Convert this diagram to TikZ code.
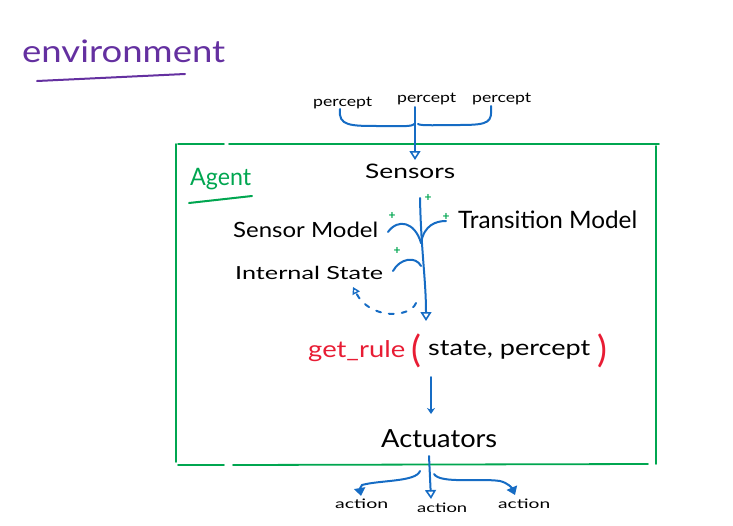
\documentclass[tikz,border=0pt]{standalone}
\usepackage{fontspec}
\usepackage{graphicx}
\setmainfont{Lato}
\usetikzlibrary{arrows.meta}
\definecolor{inkblue}{RGB}{22,108,196}
\definecolor{inkgreen}{RGB}{0,166,80}
\definecolor{inkpurple}{RGB}{100,48,160}
\definecolor{inkred}{RGB}{232,28,52}
\newcommand\fw[2]{\resizebox{#1}{\height}{#2}}
\tikzset{
  x=1pt,y=-1pt,
  ink/.style={line width=2pt,line cap=round,line join=round},
  bluepen/.style={ink,inkblue},
  boxpen/.style={ink,inkgreen,line width=1.8pt},
  txt/.style={inner sep=0pt,anchor=base west},
  plus/.style={inkgreen,font=\bfseries\fontsize{12}{12}\selectfont,inner sep=0pt},
  opentip/.style={-{Triangle[open,length=9pt,width=11pt,line width=1.6pt]}},
  smalltip/.style={-{Stealth[length=6pt,width=8pt]}},
  filledtip/.style={-{Triangle[length=8pt,width=11pt]}}
}
\begin{document}
\begin{tikzpicture}
\useasboundingbox (0,0) rectangle (733,525);
% environment
\node[txt,inkpurple,font=\fontsize{31}{31}\selectfont] (env) at (22,62) {\fw{203pt}{environment}};
\draw[ink,inkpurple] (37,81) -- (185,74);
% agent box
\draw[boxpen] (176,144) -- (176,462);
\draw[boxpen] (178,144) -- (224,144) (229,144) -- (659,144);
\draw[boxpen] (656,146) -- (656,464);
\draw[boxpen] (178,465) -- (224,465) (233,465) -- (648,464);
\node[txt,inkgreen,font=\fontsize{24}{24}\selectfont] (agent) at (190,185) {\fw{61pt}{Agent}};
\draw[ink,inkgreen] (189,203) -- (252,196);
% percepts
\node[txt,font=\fontsize{14}{14}\selectfont] (p1) at (313,106) {\fw{59pt}{percept}};
\node[txt,font=\fontsize{14}{14}\selectfont] (p2) at (397,102) {\fw{59pt}{percept}};
\node[txt,font=\fontsize{14}{14}\selectfont] (p3) at (472,102) {\fw{59pt}{percept}};
\coordinate (bl) at (340,109);
\coordinate (bm) at (415,107);
\coordinate (br) at (491,106);
\draw[bluepen] (bl) .. controls (338,126) and (350,126) .. (380,126) .. controls (400,126) and (412,127) .. (414,124);
\draw[bluepen] (418,124) .. controls (420,126) and (440,125) .. (460,125) .. controls (490,125) and (492,122) .. (br);
% sensors
\node[txt,font=\fontsize{20}{20}\selectfont] (sensors) at (365,178) {\fw{90pt}{Sensors}};
\draw[bluepen,opentip] (bm) -- (415,160);
% models
\node[txt,font=\fontsize{21}{21}\selectfont] (smodel) at (233,237) {\fw{145pt}{Sensor Model}};
\node[txt,font=\fontsize{24}{24}\selectfont] (tmodel) at (458,228) {\fw{179pt}{Transition Model}};
\node[txt,font=\fontsize{18}{18}\selectfont] (istate) at (235,279) {\fw{148pt}{Internal State}};
\coordinate (vtop) at (420,198);
\coordinate (vbot) at (426,321);
\draw[bluepen,opentip] (vtop) .. controls (421,250) and (426,280) .. (vbot);
\draw[bluepen] (388,232) .. controls (398,218) and (415,222) .. (421,243);
\draw[bluepen] (421,243) .. controls (424,225) and (436,221) .. (446,221);
\draw[bluepen] (393,271) .. controls (400,258) and (416,256) .. (421,266);
\node[plus] (pl1) at (392,216) {+};
\node[plus] (pl2) at (428,198) {+};
\node[plus] (pl3) at (446,217) {+};
\node[plus] (pl4) at (397,251) {+};
% dashed feedback
\draw[bluepen,dashed,dash pattern=on 5pt off 8pt,-{Triangle[open,length=7pt,width=8pt,line width=1.4pt]}] (416,303) .. controls (410,318) and (370,320) .. (353,287);
% get_rule
\node[txt,inkred,font=\fontsize{23}{23}\selectfont] (getrule) at (308,357) {\fw{97pt}{get\_rule}};
\node[txt,inkred,font=\fontsize{37}{37}\selectfont] (lp) at (411,362) {(};
\node[txt,font=\fontsize{22}{22}\selectfont] (args) at (428,355) {\fw{162pt}{state, percept}};
\node[txt,inkred,font=\fontsize{37}{37}\selectfont] (rp) at (597,362) {)};
\coordinate (ga) at (431,377);
\coordinate (gb) at (431,414);
\draw[bluepen,smalltip] (ga) -- (gb);
% actuators
\node[txt,font=\fontsize{25}{25}\selectfont] (act) at (381,447) {\fw{116pt}{Actuators}};
\coordinate (aroot) at (429,456);
\node[txt,font=\fontsize{13}{13}\selectfont] (a1) at (335,508) {\fw{53pt}{action}};
\node[txt,font=\fontsize{13}{13}\selectfont] (a2) at (417,512) {\fw{50pt}{action}};
\node[txt,font=\fontsize{13}{13}\selectfont] (a3) at (498,508) {\fw{52pt}{action}};
\draw[bluepen,filledtip] (420,471) .. controls (416,482) and (380,480) .. (362,485) .. controls (360,487) and (360,490) .. (361,496);
\draw[bluepen,opentip] (aroot) -- (431,499);
\draw[bluepen,filledtip] (434,474) .. controls (440,484) and (480,478) .. (500,481) .. controls (508,483) and (512,488) .. (515,495);
\end{tikzpicture}
\end{document}
